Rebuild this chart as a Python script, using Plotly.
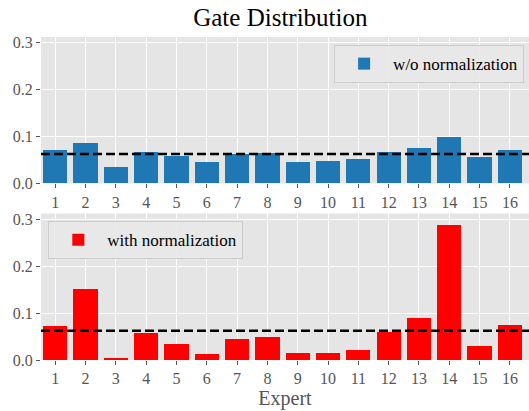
import plotly.graph_objects as go
from plotly.subplots import make_subplots

experts = list(range(1, 17))
without_norm = [0.071, 0.086, 0.035, 0.067, 0.059, 0.045, 0.062, 0.065,
                0.045, 0.048, 0.052, 0.067, 0.075, 0.099, 0.056, 0.071]
with_norm = [0.071, 0.150, 0.004, 0.056, 0.034, 0.011, 0.043, 0.047,
             0.013, 0.015, 0.021, 0.058, 0.088, 0.287, 0.028, 0.073]
uniform = 1 / 16
tick_labels = [str(e) for e in experts]

W, H = 529, 411
FONT = "Liberation Serif"
BG = "#E5E5E5"
GRAY = "#555555"

fig = make_subplots(rows=2, cols=1, vertical_spacing=0.0929)

fig.add_trace(go.Bar(x=experts, y=without_norm, name="w/o normalization",
                     marker=dict(color="#1F77B4", line=dict(width=0)),
                     width=0.8, legend="legend", showlegend=True), row=1, col=1)
fig.add_trace(go.Bar(x=experts, y=with_norm, name="with normalization",
                     marker=dict(color="#FF0000", line=dict(width=0)),
                     width=0.8, legend="legend2", showlegend=True), row=2, col=1)

for r in (1, 2):
    fig.add_hline(y=uniform, line=dict(color="black", width=2.5, dash="9px,4px"),
                  row=r, col=1)

axis_common = dict(showgrid=True, gridcolor="white", gridwidth=1.2,
                   zeroline=False, showline=False,
                   ticks="outside", ticklen=4, tickwidth=1, tickcolor=GRAY,
                   tickfont=dict(family=FONT, size=16, color=GRAY))
fig.update_xaxes(**axis_common, tickmode="array", tickvals=experts,
                 ticktext=tick_labels, range=[0.53, 16.63])
fig.update_yaxes(**axis_common, range=[0, 0.312], tickvals=[0, 0.1, 0.2, 0.3],
                 ticktext=["0.0", "0.1", "0.2", "0.3"])
fig.update_xaxes(title=dict(text="Expert", font=dict(family=FONT, size=20, color=GRAY),
                            standoff=4), row=2, col=1)

legend_common = dict(bgcolor="rgba(232,232,232,0.9)", bordercolor="#CCCCCC",
                     borderwidth=1, itemwidth=48,
                     font=dict(family=FONT, size=17, color="black"))
fig.update_layout(
    width=W, height=H,
    margin=dict(l=41, r=0, t=37, b=51),
    paper_bgcolor="white", plot_bgcolor=BG,
    showlegend=True,
    title=dict(text="Gate Distribution", x=0.53, xanchor="center", y=0.958, yanchor="middle",
               font=dict(family=FONT, size=25, color="black")),
    font=dict(family=FONT),
    bargap=0,
    legend=dict(x=0.99, y=0.975, xanchor="right", yanchor="top", **legend_common),
    legend2=dict(x=0.015, y=0.43, xanchor="left", yanchor="top", **legend_common),
)
fig.update_layout(yaxis=dict(domain=[0.5466, 1.0]), yaxis2=dict(domain=[0.0, 0.4537]))

fig.write_html("out.html", config={"displayModeBar": False},
               post_script="document.body.style.margin='0';")
